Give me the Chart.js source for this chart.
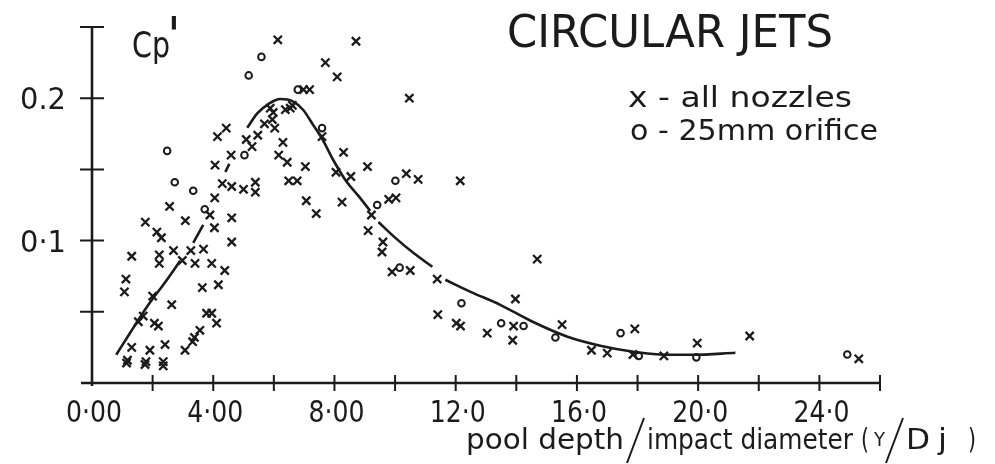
<!DOCTYPE html>
<html>
<head>
<meta charset="utf-8">
<script src="https://cdn.jsdelivr.net/npm/chart.js@4/dist/chart.umd.min.js"></script>
<style>
  html, body { margin: 0; padding: 0; background: #ffffff; }
  #wrap { width: 995px; height: 464px; }
</style>
</head>
<body>
<div id="wrap"><canvas id="chart" width="995" height="464"></canvas></div>
<script>
// Fluctuating pressure coefficient Cp' against relative pool depth Y/Dj

// "x" marks: all nozzles
const nozzleX = [
  1.31, 2.22, 2.22, 3.40, 3.95, 4.38, 1.12, 1.07, 3.64, 4.17,
  2.00, 2.63, 3.78, 3.95, 4.11, 1.53, 1.69, 2.06, 2.19, 3.56,
  3.38, 3.32, 3.07, 2.41, 1.91, 1.31, 1.17, 1.14, 1.78, 1.75,
  2.35, 2.35, 2.98, 1.76, 2.14, 2.29, 2.56, 2.69, 3.08, 3.26,
  3.68, 4.05, 3.89, 4.04, 4.61, 4.61, 4.30, 4.61, 5.00, 5.39,
  4.14, 4.43, 4.59, 4.06, 6.13, 5.09, 5.47, 5.69, 6.03, 6.30,
  6.16, 6.44, 7.04, 5.28, 5.88, 5.98, 6.38, 6.54, 6.61, 5.95,
  7.59, 6.49, 6.77, 5.39, 7.07, 7.40, 8.25, 6.98, 7.18, 7.70,
  8.09, 8.71, 8.30, 9.09, 8.05, 8.54, 10.37, 10.76, 12.15, 10.47,
  9.79, 10.03, 9.22, 9.11, 9.60, 9.57, 9.90, 10.50, 11.39, 13.97,
  11.41, 12.02, 12.16, 13.04, 13.91, 13.88, 14.69, 15.51, 16.48, 17.00,
  17.91, 17.85, 18.87, 19.97, 21.70, 25.30
];
const nozzleCp = [
  0.089, 0.090, 0.084, 0.084, 0.084, 0.079, 0.073, 0.064, 0.067, 0.069,
  0.061, 0.055, 0.049, 0.049, 0.042, 0.043, 0.047, 0.042, 0.040, 0.037,
  0.032, 0.029, 0.023, 0.027, 0.023, 0.025, 0.016, 0.014, 0.015, 0.013,
  0.015, 0.012, 0.086, 0.113, 0.106, 0.102, 0.124, 0.093, 0.114, 0.093,
  0.094, 0.130, 0.118, 0.109, 0.116, 0.099, 0.140, 0.138, 0.136, 0.134,
  0.173, 0.179, 0.160, 0.153, 0.241, 0.171, 0.174, 0.182, 0.179, 0.169,
  0.160, 0.155, 0.152, 0.166, 0.193, 0.190, 0.192, 0.193, 0.195, 0.185,
  0.173, 0.142, 0.142, 0.141, 0.128, 0.119, 0.127, 0.206, 0.206, 0.225,
  0.215, 0.240, 0.162, 0.152, 0.148, 0.145, 0.147, 0.143, 0.142, 0.200,
  0.129, 0.130, 0.118, 0.107, 0.099, 0.092, 0.078, 0.079, 0.073, 0.059,
  0.048, 0.042, 0.040, 0.035, 0.040, 0.030, 0.087, 0.041, 0.023, 0.021,
  0.038, 0.020, 0.019, 0.028, 0.033, 0.017
];

// "o" marks: 25mm orifice
const orificeX = [
  5.59, 5.17, 6.79, 7.59, 2.48, 2.73, 3.34, 3.72, 5.03, 10.01,
  9.41, 10.15, 12.19, 13.50, 14.24, 15.29, 17.44, 18.04, 19.94, 24.92
];
const orificeCp = [
  0.229, 0.216, 0.206, 0.179, 0.163, 0.141, 0.135, 0.122, 0.160, 0.142,
  0.125, 0.081, 0.056, 0.042, 0.040, 0.032, 0.035, 0.019, 0.018, 0.020
];

// Mean curve, drawn in pieces (null marks a break in the line)
const curveX = [
  0.80, 1.26, 1.86, 2.42, 2.91, 3.10,
  3.34, 3.67, 4.00,
  4.40, 4.53, 4.80,
  5.12, 5.46, 5.82, 6.21, 6.61, 6.97, 7.30, 7.60, 7.96, 8.36, 8.79, 9.18, 9.30,
  9.45, 10.01, 10.60, 11.23, 11.45,
  11.66, 12.49, 13.47, 14.47, 15.69, 16.77, 17.86, 18.92, 19.85, 21.23
];
const curveCp = [
  0.0198, 0.0353, 0.0549, 0.0710, 0.0858, null,
  0.0984, 0.1111, null,
  0.1482, 0.1539, null,
  0.1792, 0.1895, 0.1959, 0.1994, 0.1980, 0.1917, 0.1811, 0.1713, 0.1566, 0.1426, 0.1314, 0.1209, null,
  0.1131, 0.1019, 0.0914, 0.0816, null,
  0.0725, 0.0640, 0.0549, 0.0437, 0.0325, 0.0262, 0.0220, 0.0198, 0.0198, 0.0212
];

// Axis labelling
const xTickValues = [0, 4, 8, 12, 16, 20, 24];
const xTickLabels = ['0·00', '4·00', '8·00', '12·0', '16·0', '20·0', '24·0'];
const yTickValues = [0.1, 0.2];
const yTickLabels = ['0·1', '0.2'];

const INK = '#1b1b1b';
const FONT = "'DejaVu Sans', 'Liberation Sans', sans-serif";

function pairs(xs, ys) {
  return xs.map((x, i) => ({ x: x, y: ys[i] }));
}

// Text squeezed horizontally to a given width (narrow lettering);
// a null width keeps the natural width
function fitText(ctx, text, x, baseline, size, width, align) {
  ctx.save();
  ctx.font = size + 'px ' + FONT;
  const w = ctx.measureText(text).width;
  const target = width == null ? w : width;
  const sx = target / w;
  let left = x;
  if (align === 'center') left = x - target / 2;
  else if (align === 'right') left = x - target;
  ctx.translate(left, baseline);
  ctx.scale(sx, 1);
  ctx.textAlign = 'left';
  ctx.textBaseline = 'alphabetic';
  ctx.fillText(text, 0, 0);
  ctx.restore();
}

const axesAndText = {
  id: 'axesAndText',
  beforeDatasetsDraw(chart) {
    const ctx = chart.ctx;
    const xs = chart.scales.x;
    const ys = chart.scales.y;
    const x0 = xs.getPixelForValue(0);
    const xEnd = xs.getPixelForValue(26);
    const y0 = ys.getPixelForValue(0);
    const yTop = ys.getPixelForValue(0.25);

    ctx.save();
    ctx.strokeStyle = INK;
    ctx.fillStyle = INK;
    ctx.lineCap = 'butt';

    // axis lines
    ctx.lineWidth = 2.6;
    ctx.beginPath();
    ctx.moveTo(x0, yTop);
    ctx.lineTo(x0, y0 + 3);
    ctx.moveTo(x0 - 11, y0);
    ctx.lineTo(xEnd, y0);
    ctx.stroke();

    // ticks crossing the axes
    ctx.lineWidth = 2;
    ctx.beginPath();
    for (let v = 2; v <= 26; v += 2) {
      const px = xs.getPixelForValue(v);
      ctx.moveTo(px, y0 - 8);
      ctx.lineTo(px, y0 + 8);
    }
    for (let v = 0.05; v <= 0.2501; v += 0.05) {
      const py = ys.getPixelForValue(v);
      ctx.moveTo(x0 - 12, py);
      ctx.lineTo(x0 + 12, py);
    }
    ctx.stroke();

    // tick labels
    xTickValues.forEach((v, i) => {
      const px = xs.getPixelForValue(v) + 2;
      fitText(ctx, xTickLabels[i], px, 422, 31, 56, 'center');
    });
    yTickValues.forEach((v, i) => {
      const py = ys.getPixelForValue(v);
      fitText(ctx, yTickLabels[i], 66, py + 11, 31, 46, 'right');
    });

    // y-axis quantity
    fitText(ctx, 'Cp', 132, 57, 35, 38, 'left');
    fitText(ctx, "'", 167, 52, 50, null, 'left');

    // x-axis quantity, with long slanted strokes
    fitText(ctx, 'pool depth', 466, 449, 29, 158, 'left');
    fitText(ctx, 'impact diameter', 647, 449, 29, 206, 'left');
    fitText(ctx, '(', 861, 449, 29, 8, 'left');
    fitText(ctx, 'Y', 874, 446, 20, 11, 'left');
    fitText(ctx, 'D', 906, 449, 29, 24, 'left');
    fitText(ctx, 'j', 938, 449, 29, 9, 'left');
    fitText(ctx, ')', 968, 449, 29, 8, 'left');
    ctx.lineWidth = 2;
    ctx.beginPath();
    ctx.moveTo(627, 463);
    ctx.lineTo(644, 418);
    ctx.moveTo(886, 463);
    ctx.lineTo(903, 418);
    ctx.stroke();

    // heading and key
    fitText(ctx, 'CIRCULAR JETS', 507, 47, 44, 326, 'left');
    fitText(ctx, 'x - all nozzles', 628, 107, 29, 224, 'left');
    fitText(ctx, 'o - 25mm orifice', 630, 140, 29, 248, 'left');

    ctx.restore();
  }
};

new Chart(document.getElementById('chart'), {
  type: 'scatter',
  data: {
    datasets: [
      {
        type: 'line',
        label: 'mean curve',
        data: pairs(curveX, curveCp),
        borderColor: INK,
        borderWidth: 2.6,
        pointRadius: 0,
        fill: false,
        spanGaps: false,
        cubicInterpolationMode: 'monotone'
      },
      {
        label: 'all nozzles',
        data: pairs(nozzleX, nozzleCp),
        pointStyle: 'crossRot',
        pointRadius: 5.8,
        pointBorderWidth: 2.3,
        borderColor: INK,
        backgroundColor: INK
      },
      {
        label: '25mm orifice',
        data: pairs(orificeX, orificeCp),
        pointStyle: 'circle',
        pointRadius: 3.3,
        pointBorderWidth: 2,
        borderColor: INK,
        backgroundColor: '#ffffff'
      }
    ]
  },
  options: {
    responsive: false,
    animation: false,
    devicePixelRatio: 1,
    clip: false,
    layout: { padding: { left: 92, right: 115, top: 27, bottom: 81 } },
    plugins: { legend: { display: false }, tooltip: { enabled: false } },
    scales: {
      x: { type: 'linear', min: 0, max: 26, display: false },
      y: { type: 'linear', min: 0, max: 0.25, display: false }
    }
  },
  plugins: [axesAndText]
});
</script>
</body>
</html>
